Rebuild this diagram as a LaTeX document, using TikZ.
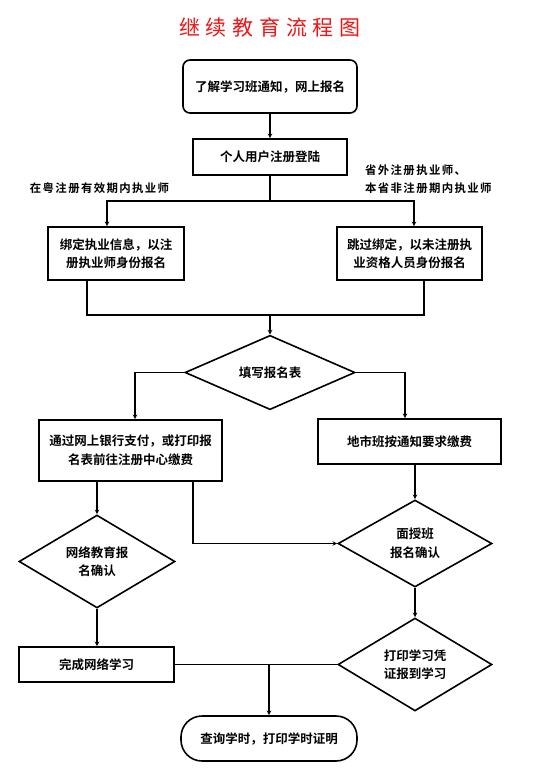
\documentclass[tikz,border=0pt]{standalone}
\usepackage{fontspec}
\setmainfont{Noto Sans CJK SC}[BoldFont=* Bold]
\newfontfamily\titlefont{Noto Sans CJK SC}[LetterSpace=5, BoldFont=* Bold]
\newfontfamily\notefont{Noto Sans CJK SC}[LetterSpace=12, BoldFont=* Bold]
\usepackage{xcolor}
\definecolor{titlered}{RGB}{240,20,20}
\usetikzlibrary{shapes.geometric, arrows, positioning}
\tikzstyle{arrow} = [line width=1.1pt,->,>=stealth]
\tikzstyle{line} = [line width=1.1pt]
\tikzstyle{process} = [rectangle, draw=black, line width=1.6pt, inner sep=0pt, align=center, font=\bfseries\fontsize{12.5}{18.5}\selectfont]
\tikzstyle{startstop} = [process, rounded corners=7pt]
\tikzstyle{terminal} = [process, rounded corners=21pt]
\tikzstyle{decision} = [diamond, draw=black, line width=1.6pt, inner sep=0pt, align=center, font=\bfseries\fontsize{12.5}{18.5}\selectfont]
\tikzstyle{note} = [inner sep=0pt, align=left, font=\notefont\bfseries\fontsize{11.4}{18}\selectfont]

\begin{document}
\begin{tikzpicture}[x=1pt, y=1pt, node distance=60pt]
\useasboundingbox (0,0) rectangle (550,-784);
%----------------------------------------------------------------------------
% Placement of flowchart nodes
\node (title) [text=titlered, font=\titlefont\fontsize{21}{21}\selectfont] at (270,-27) {继 续 教 育 流 程 图};
\node (learnNotice) [startstop, below of = title, node distance=59.5pt, minimum width=174pt, minimum height=53pt] {了解学习班通知，网上报名};
\node (userRegister) [process, below of = learnNotice, node distance=70.5pt, minimum width=154pt, minimum height=36pt] {个人用户注册登陆};

\node (bindInfo) [process, minimum width=136pt, minimum height=53pt] at (116,-253.5) {绑定执业信息，以注\\册执业师身份报名};
\node (skipBind) [process, minimum width=145pt, minimum height=53pt] at (409.5,-253.5) {跳过绑定，以未注册执\\业资格人员身份报名};
\node (fillForm) [decision, below of = userRegister, node distance=215.5pt, minimum width=170pt, minimum height=61pt] {填写报名表};

\node (payOnline) [process, minimum width=183pt, minimum height=61pt] at (130.5,-450.5) {通过网上银行支付，或打印报\\名表前往注册中心缴费};
\node (payLocal) [process, minimum width=183pt, minimum height=45pt] at (409.5,-441.5) {地市班按通知要求缴费};
\node (onlineConfirm) [decision, minimum width=156pt, minimum height=87pt] at (97,-561.5) {网络教育报\\名确认};
\node (faceConfirm) [decision, minimum width=154pt, minimum height=87pt] at (415,-543.5) {面授班\\报名确认};
\node (printCert) [decision, below of = faceConfirm, node distance=121pt, minimum width=154pt, minimum height=87pt] {打印学习凭\\证报到学习};
\node (finishOnline) [process, minimum width=155pt, minimum height=35pt] at (96.5,-664.5) {完成网络学习};
\node (queryHours) [terminal, minimum width=176pt, minimum height=45pt] at (269,-738.5) {查询学时，打印学时证明};

%----------------------------------------------------------------------------
% Lines
\draw [arrow] (learnNotice) -- (userRegister);
\coordinate [below of = userRegister, node distance=44pt] (branchTop);
\draw [line] (userRegister) -- (branchTop);
\draw [arrow] (branchTop) -| ([xshift=-9pt]bindInfo.north);
\draw [arrow] (branchTop) -| ([xshift=4.5pt]skipBind.north);

\coordinate [below of = branchTop, node distance=114pt] (mergeTop);
\draw [line] ([xshift=-29pt]bindInfo.south) |- (mergeTop) -| ([xshift=14.5pt]skipBind.south);
\draw [arrow] (mergeTop) -- (fillForm);

\draw [arrow] (fillForm.west) -| ([xshift=4.5pt]payOnline.north);
\draw [arrow] (fillForm.east) -| ([xshift=-4.5pt]payLocal.north);
\draw [arrow] (payOnline.south -| onlineConfirm.north) -- (onlineConfirm.north);
\draw [arrow] ([xshift=62.5pt]payOnline.south) |- (faceConfirm.west);
\draw [arrow] (payLocal.south -| faceConfirm.north) -- (faceConfirm.north);
\draw [arrow] (faceConfirm) -- (printCert);
\draw [arrow] (onlineConfirm.south) -- (onlineConfirm.south |- finishOnline.north);

\draw [line] (finishOnline.east) -- (printCert.west);
\coordinate (mergeBottom) at (queryHours.north |- finishOnline.east);
\draw [arrow] (mergeBottom) -- (queryHours.north);

%----------------------------------------------------------------------------
% Notes
\node (noteLocal) [note] at (99.5,-188) {在粤注册有效期内执业师};
\node (noteOther) [note, anchor=west] at (365,-179) {省外注册执业师、\\本省非注册期内执业师};

\end{tikzpicture}
\end{document}
